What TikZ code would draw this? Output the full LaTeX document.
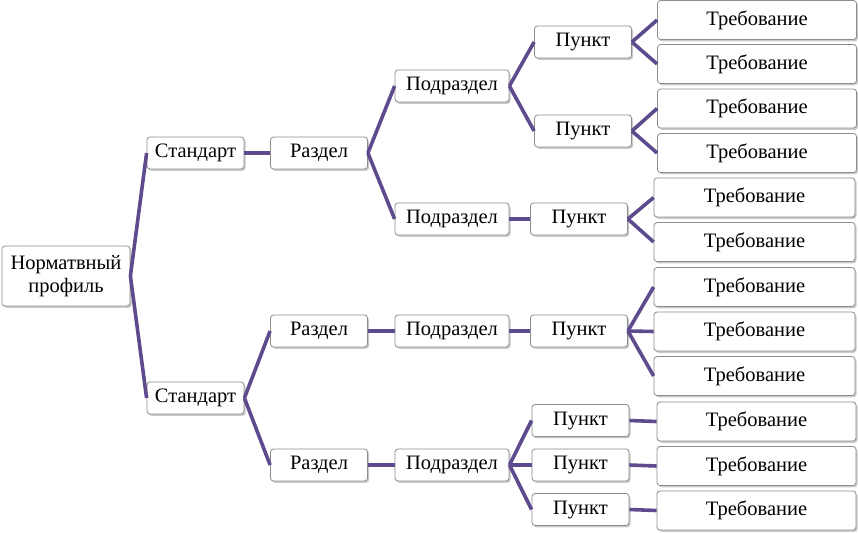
\documentclass[tikz,border=0pt]{standalone}
\usepackage{fontspec}
\setmainfont{Liberation Serif}
\usetikzlibrary{shadows}
\definecolor{conn}{HTML}{5E4B8E}
\tikzset{
  box/.style={draw=black!45, line width=0.8pt, rounded corners=3pt, fill=white,
    drop shadow={shadow xshift=1.5pt, shadow yshift=-1.8pt, fill=black!35, opacity=0.6},
    inner sep=0pt, font=\fontsize{20.5}{23}\selectfont, align=center},
  sbox/.style={box, minimum width=97pt, minimum height=32pt},
  pbox/.style={box, minimum width=114pt, minimum height=32pt},
  tbox/.style={box, minimum width=199pt, minimum height=39pt},
  link/.style={draw=conn, line width=3.6pt}
}
\begin{document}
\begin{tikzpicture}[x=1pt,y=-1pt]
\useasboundingbox (0,0) rectangle (858,532);
% root
\node[box, minimum width=128pt, minimum height=60pt] (root) at (66,276) {Норматвный\\профиль};
% level 1
\node[sbox] (s1) at (195.5,153) {Стандарт};
\node[sbox] (s2) at (195.5,398) {Стандарт};
% level 2
\node[sbox] (r1) at (319,153) {Раздел};
\node[sbox] (r3) at (319,331) {Раздел};
\node[sbox] (r4) at (319,465) {Раздел};
% level 3
\node[pbox] (p1) at (452,86) {Подраздел};
\node[pbox] (p2) at (452,219) {Подраздел};
\node[pbox] (p3) at (452,331) {Подраздел};
\node[pbox] (p4) at (452,465) {Подраздел};
% level 4
\node[sbox] (k1) at (583,42) {Пункт};
\node[sbox] (k2) at (583,131) {Пункт};
\node[sbox] (k3) at (579,219) {Пункт};
\node[sbox] (k4) at (579,331) {Пункт};
\node[sbox] (k5) at (580.5,420.5) {Пункт};
\node[sbox] (k6) at (580.5,465) {Пункт};
\node[sbox] (k7) at (580.5,509.5) {Пункт};
% level 5
\node[tbox] (t1) at (757,20) {Требование};
\node[tbox] (t2) at (757,64) {Требование};
\node[tbox] (t3) at (757,108.5) {Требование};
\node[tbox] (t4) at (757,153) {Требование};
\node[tbox, minimum width=201pt] (t5) at (754.5,197.5) {Требование};
\node[tbox, minimum width=201pt] (t6) at (754.5,242) {Требование};
\node[tbox, minimum width=201pt] (t7) at (754.5,287) {Требование};
\node[tbox, minimum width=201pt] (t8) at (754.5,331.5) {Требование};
\node[tbox, minimum width=201pt] (t9) at (754.5,376) {Требование};
\node[tbox] (t10) at (756.5,421.5) {Требование};
\node[tbox] (t11) at (756.5,466) {Требование};
\node[tbox] (t12) at (756.5,510.5) {Требование};
% connectors
\draw[link] (root.east) -- (s1.west);
\draw[link] (root.east) -- (s2.west);
\draw[link] (s1.east) -- (r1.west);
\draw[link] (r1.east) -- (p1.west);
\draw[link] (r1.east) -- (p2.west);
\draw[link] (p1.east) -- (k1.west);
\draw[link] (p1.east) -- (k2.west);
\draw[link] (p2.east) -- (k3.west);
\draw[link] (k1.east) -- (t1.west);
\draw[link] (k1.east) -- (t2.west);
\draw[link] (k2.east) -- (t3.west);
\draw[link] (k2.east) -- (t4.west);
\draw[link] (k3.east) -- (t5.west);
\draw[link] (k3.east) -- (t6.west);
\draw[link] (s2.east) -- (r3.west);
\draw[link] (s2.east) -- (r4.west);
\draw[link] (r3.east) -- (p3.west);
\draw[link] (p3.east) -- (k4.west);
\draw[link] (k4.east) -- (t7.west);
\draw[link] (k4.east) -- (t8.west);
\draw[link] (k4.east) -- (t9.west);
\draw[link] (r4.east) -- (p4.west);
\draw[link] (p4.east) -- (k5.west);
\draw[link] (p4.east) -- (k6.west);
\draw[link] (p4.east) -- (k7.west);
\draw[link] (k5.east) -- (t10.west);
\draw[link] (k6.east) -- (t11.west);
\draw[link] (k7.east) -- (t12.west);
\end{tikzpicture}
\end{document}
